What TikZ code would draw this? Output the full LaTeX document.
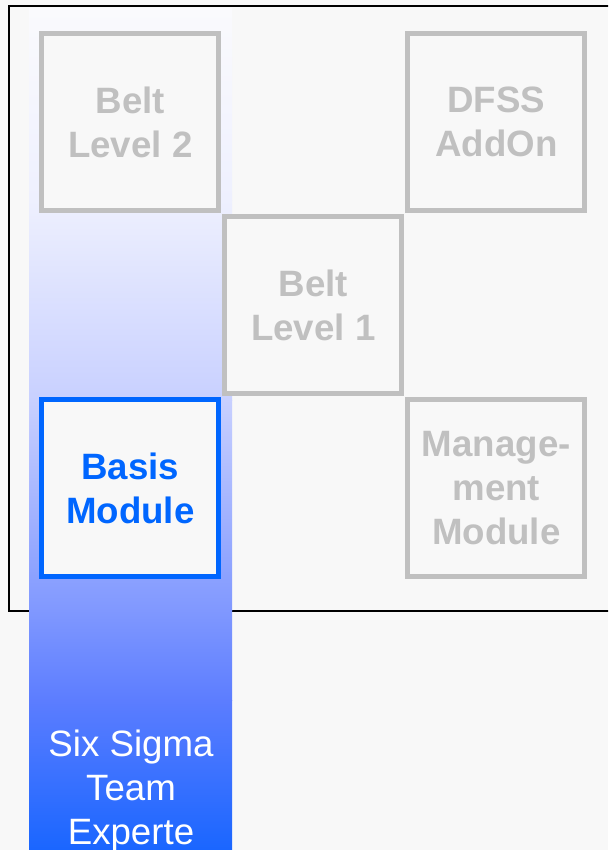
\documentclass[tikz,border=0pt]{standalone}
\usepackage{fontspec}
\setmainfont{Liberation Sans}
\definecolor{bg}{HTML}{F8F8F8}
\definecolor{boxgray}{HTML}{C0C0C0}
\definecolor{basisblue}{HTML}{0066FF}
\definecolor{cA}{HTML}{FAFAFD}
\definecolor{cB}{HTML}{EEF0FE}
\definecolor{cC}{HTML}{C8D0FF}
\definecolor{cD}{HTML}{8098FF}
\definecolor{cE}{HTML}{5C7DFF}
\definecolor{cF}{HTML}{1A66FF}
\tikzset{
  module/.style={draw=boxgray, fill=bg, line width=3.75pt, minimum size=132.75pt,
    inner sep=0pt, text=boxgray, align=center,
    font=\fontsize{27.5}{33}\selectfont\bfseries},
  basis/.style={module, draw=basisblue, text=basisblue},
  barlabel/.style={text=white, align=center, font=\fontsize{27.5}{33}\selectfont}
}
\begin{document}
\begin{tikzpicture}[x=0.75pt,y=-0.75pt]
\useasboundingbox (0,0) rectangle (608,850);
\fill[bg] (0,0) rectangle (608,850);
% frame
\begin{scope}
\clip (0,0) rectangle (608,850);
\draw[line width=1.5pt] (9,5.5) -- (612,5.5) -- (612,611) -- (9,611) -- cycle;
\end{scope}
% gradient bar
\shade[top color=cA, bottom color=cB] (29,8) rectangle (232,200.5);
\shade[top color=cB, bottom color=cC] (29,200) rectangle (232,400.5);
\shade[top color=cC, bottom color=cD] (29,400) rectangle (232,610.5);
\shade[top color=cD, bottom color=cE] (29,610) rectangle (232,700.5);
\shade[top color=cE, bottom color=cF] (29,700) rectangle (232,850);
% modules
\node[module] (bl2) at (130.3,122) {Belt\\Level 2};
\node[module] (dfss) at (496.3,122) {DFSS\\AddOn};
\node[module] (bl1) at (313.3,305) {Belt\\Level 1};
\node[basis] (basis) at (130.3,488.3) {Basis\\Module};
\node[module] (mgmt) at (496.3,488.3) {Manage-\\ment\\Module};
\node[barlabel] (team) at (131,791) {Six Sigma\\Team\\Experte};
\end{tikzpicture}
\end{document}
